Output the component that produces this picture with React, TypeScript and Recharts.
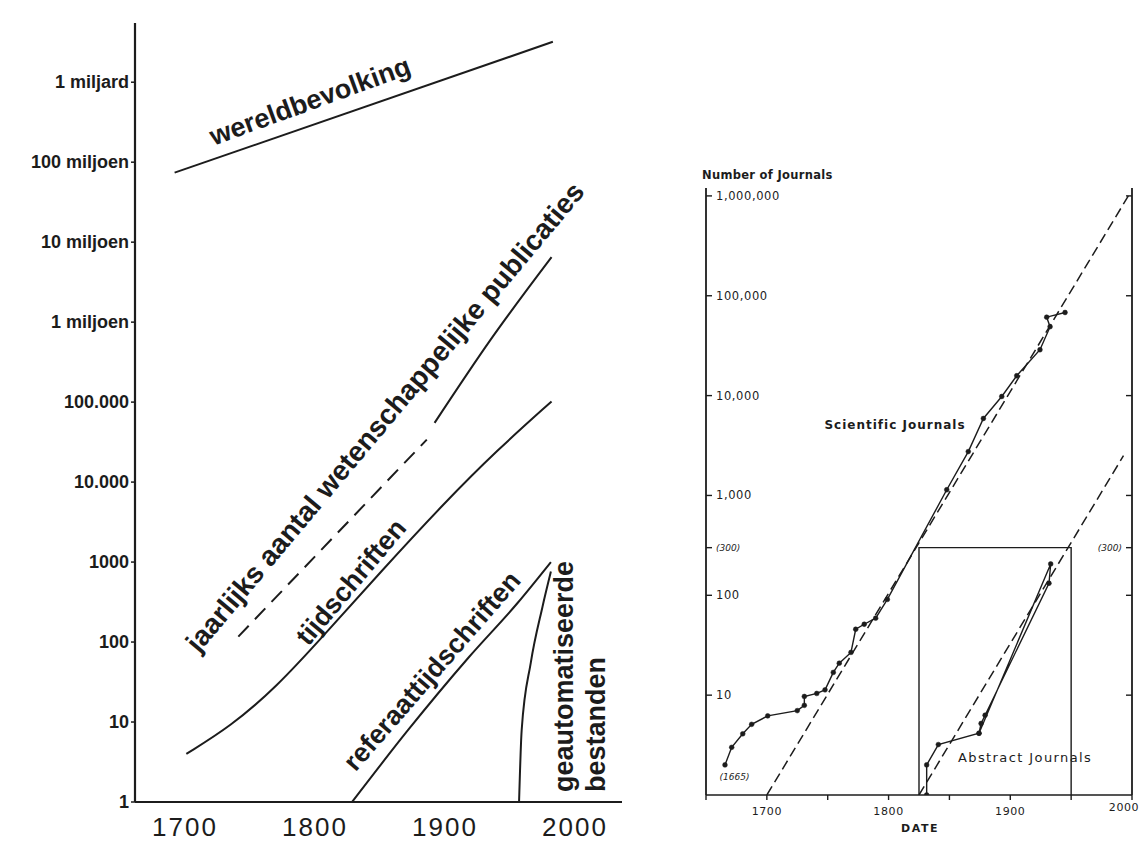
import React from 'react';
import { LineChart, Line, XAxis, YAxis } from 'recharts';

// ---------- Left chart (Dutch) ----------
const LEFT_X_TICKS = [1700, 1800, 1900, 2000];
const LEFT_Y_TICKS = [1, 10, 100, 1000, 10000, 100000, 1e6, 1e7, 1e8, 1e9];
const LEFT_Y_LABELS = ['1', '10', '100', '1000', '10.000', '100.000', '1 miljoen', '10 miljoen', '100 miljoen', '1 miljard'];

const wereldbevolking = [
  { year: 1692, value: 7.4e7 },
  { year: 1983, value: 3.2e9 },
];
const publicatiesGeschat = [
  { year: 1741, value: 117 },
  { year: 1886, value: 34000 },
];
const publicaties = [
  { year: 1892, value: 55000 },
  { year: 1935, value: 600000 },
  { year: 1982, value: 6.5e6 },
];
const tijdschriften = [
  { year: 1701, value: 4.0 },
  { year: 1735, value: 8.8 },
  { year: 1770, value: 27 },
  { year: 1806, value: 117 },
  { year: 1850, value: 740 },
  { year: 1900, value: 5600 },
  { year: 1940, value: 25000 },
  { year: 1982, value: 102000 },
];
const referaattijdschriften = [
  { year: 1828.5, value: 1 },
  { year: 1871.5, value: 7.9 },
  { year: 1918.5, value: 65 },
  { year: 1956, value: 310 },
  { year: 1981.5, value: 1000 },
];
const geautomatiseerd = [
  { year: 1957, value: 1 },
  { year: 1959, value: 7.9 },
  { year: 1966, value: 55 },
  { year: 1975, value: 275 },
  { year: 1981.5, value: 760 },
];

// ---------- Right chart (English) ----------
const RIGHT_X_TICKS = [1650, 1700, 1750, 1800, 1850, 1900, 1950, 2000];
const RIGHT_X_LABELED = [1700, 1800, 1900, 2000];
const RIGHT_Y_TICKS = [10, 100, 300, 1000, 10000, 100000, 1000000];
const RIGHT_Y_LABELS = ['10', '100', '(300)', '1,000', '10,000', '100,000', '1,000,000'];

const scientificJournals = [
  { year: 1665.6, value: 2.0 },
  { year: 1671.1, value: 3.0 },
  { year: 1680.2, value: 4.1 },
  { year: 1687.5, value: 5.1 },
  { year: 1700.7, value: 6.2 },
  { year: 1725, value: 7.0 },
  { year: 1730.8, value: 7.9 },
  { year: 1730.8, value: 9.7 },
  { year: 1741, value: 10.4 },
  { year: 1747.8, value: 11.3 },
  { year: 1754.6, value: 16.9 },
  { year: 1759.5, value: 20.9 },
  { year: 1769.1, value: 26.8 },
  { year: 1773, value: 45.7 },
  { year: 1780, value: 51.3 },
  { year: 1789.4, value: 59 },
  { year: 1799, value: 91 },
  { year: 1847.8, value: 1140 },
  { year: 1865.5, value: 2750 },
  { year: 1877.9, value: 5900 },
  { year: 1893, value: 9800 },
  { year: 1905.3, value: 15800 },
  { year: 1924.4, value: 28800 },
  { year: 1932.7, value: 49000 },
  { year: 1929.9, value: 61000 },
  { year: 1945, value: 68000 },
];
const scientificTrend = [
  { year: 1700, value: 1 },
  { year: 1997, value: 1000000 },
];
const abstractJournals = [
  { year: 1831.3, value: 1 },
  { year: 1831.3, value: 2.0 },
  { year: 1840.9, value: 3.2 },
  { year: 1874.3, value: 4.15 },
  { year: 1933.2, value: 206 },
  { year: 1931.8, value: 132 },
  { year: 1879.3, value: 6.3 },
  { year: 1876, value: 5.2 },
  { year: 1874.3, value: 4.15 },
];
const abstractTrend = [
  { year: 1825, value: 1 },
  { year: 1993, value: 2500 },
];
const insetBox = [
  { year: 1825, value: 1 },
  { year: 1825, value: 300 },
  { year: 1950, value: 300 },
  { year: 1950, value: 1 },
];

const INK = '#1c1c1c';
const LEFT_FONT = '"Liberation Sans", Arial, sans-serif';
const RIGHT_FONT = '"DejaVu Sans", sans-serif';

const LeftXTick = (props: any) => {
  const { x, y, payload } = props;
  return (
    <text x={x} y={y + 17} textAnchor="middle" dominantBaseline="central" fontFamily={LEFT_FONT}
      fontSize={26} letterSpacing={2} fill={INK}>{payload.value}</text>
  );
};

const LeftYTick = (props: any) => {
  const { x, y, payload } = props;
  const i = LEFT_Y_TICKS.indexOf(payload.value);
  return (
    <text x={x} y={y} textAnchor="end" dominantBaseline="central" fontFamily={LEFT_FONT}
      fontSize={18} fontWeight="bold" fill={INK}>{LEFT_Y_LABELS[i]}</text>
  );
};

const RightXTick = (props: any) => {
  const { x, y, payload } = props;
  if (!RIGHT_X_LABELED.includes(payload.value)) return <g />;
  const isLast = payload.value === 2000;
  return (
    <text x={x + (isLast ? -8 : 0)} y={y + (isLast ? 5 : 9)} textAnchor="middle" dominantBaseline="central" fontFamily={RIGHT_FONT}
      fontSize={11} letterSpacing={0.6} fill={INK}>{payload.value}</text>
  );
};

const RightYTickLeft = (props: any) => {
  const { x, y, payload } = props;
  const i = RIGHT_Y_TICKS.indexOf(payload.value);
  const isRef = payload.value === 300;
  return (
    <text x={x + 2} y={y} textAnchor="start" dominantBaseline="central" fontFamily={RIGHT_FONT}
      fontSize={isRef ? 9 : 11.5} fontStyle={isRef ? 'italic' : 'normal'} letterSpacing={isRef ? 0 : 0.6}
      fill={INK}>{RIGHT_Y_LABELS[i]}</text>
  );
};

const RightYTickRight = (props: any) => {
  const { x, y, payload } = props;
  if (payload.value !== 300) return <g />;
  return (
    <text x={x - 2} y={y} textAnchor="end" dominantBaseline="central" fontFamily={RIGHT_FONT}
      fontSize={9} fontStyle="italic" fill={INK}>(300)</text>
  );
};

export default function App() {
  return (
    <div style={{ position: 'absolute', left: 0, top: 0, width: 1147, height: 859, background: '#fff' }}>
      <div style={{ position: 'absolute', left: 0, top: 0 }}>
        <LineChart width={650} height={859} margin={{ top: 23, right: 28, bottom: 27, left: 75 }}>
          <XAxis type="number" dataKey="year" domain={[1661.5, 2036.2]} allowDataOverflow ticks={LEFT_X_TICKS}
            interval={0} height={30} tickLine={false} tick={LeftXTick}
            axisLine={{ stroke: INK, strokeWidth: 2.2 }} />
          <YAxis type="number" dataKey="value" scale="log" domain={[1, 5.5e9]} allowDataOverflow ticks={LEFT_Y_TICKS}
            interval={0} width={60} tickSize={4} tickLine={{ stroke: INK, strokeWidth: 1.5 }} tick={LeftYTick}
            axisLine={{ stroke: INK, strokeWidth: 2.2 }} />
          <Line data={wereldbevolking} dataKey="value" type="linear" stroke={INK} strokeWidth={2} dot={false} isAnimationActive={false} />
          <Line data={publicatiesGeschat} dataKey="value" type="linear" stroke={INK} strokeWidth={2} strokeDasharray="15 9" dot={false} isAnimationActive={false} />
          <Line data={publicaties} dataKey="value" type="monotone" stroke={INK} strokeWidth={2} dot={false} isAnimationActive={false} />
          <Line data={tijdschriften} dataKey="value" type="basis" stroke={INK} strokeWidth={2} dot={false} isAnimationActive={false} />
          <Line data={referaattijdschriften} dataKey="value" type="monotone" stroke={INK} strokeWidth={2} dot={false} isAnimationActive={false} />
          <Line data={geautomatiseerd} dataKey="value" type="monotone" stroke={INK} strokeWidth={2} dot={false} isAnimationActive={false} />
        </LineChart>
      </div>

      <div style={{ position: 'absolute', left: 650, top: 0 }}>
        <LineChart width={497} height={859} margin={{ top: 188, right: 15, bottom: 34, left: 56 }}>
          <XAxis type="number" dataKey="year" domain={[1650, 2000]} allowDataOverflow ticks={RIGHT_X_TICKS}
            interval={0} height={30} tickSize={5} tickLine={{ stroke: INK, strokeWidth: 1.4 }} tick={RightXTick}
            axisLine={{ stroke: INK, strokeWidth: 1.6 }} />
          <YAxis yAxisId="l" type="number" dataKey="value" scale="log" domain={[1, 1.2e6]} allowDataOverflow
            ticks={RIGHT_Y_TICKS} interval={0} width={56} mirror tickSize={6}
            tickLine={{ stroke: INK, strokeWidth: 1.4 }} tick={RightYTickLeft}
            axisLine={{ stroke: INK, strokeWidth: 1.8 }} />
          <YAxis yAxisId="r" orientation="right" type="number" dataKey="value" scale="log" domain={[1, 1.2e6]} allowDataOverflow
            ticks={RIGHT_Y_TICKS} interval={0} width={15} mirror tickSize={6}
            tickLine={{ stroke: INK, strokeWidth: 1.4 }} tick={RightYTickRight}
            axisLine={{ stroke: INK, strokeWidth: 1.8 }} />
          <Line yAxisId="l" data={insetBox} dataKey="value" type="linear" stroke={INK} strokeWidth={1.4} dot={false} isAnimationActive={false} />
          <Line yAxisId="l" data={scientificTrend} dataKey="value" type="linear" stroke={INK} strokeWidth={1.5} strokeDasharray="10 5" dot={false} isAnimationActive={false} />
          <Line yAxisId="l" data={abstractTrend} dataKey="value" type="linear" stroke={INK} strokeWidth={1.5} strokeDasharray="10 5" dot={false} isAnimationActive={false} />
          <Line yAxisId="l" data={scientificJournals} dataKey="value" type="linear" stroke={INK} strokeWidth={1.4}
            dot={{ r: 2.4, fill: INK, stroke: INK, strokeWidth: 0.5 }} isAnimationActive={false} />
          <Line yAxisId="l" data={abstractJournals} dataKey="value" type="linear" stroke={INK} strokeWidth={1.4}
            dot={{ r: 2.4, fill: INK, stroke: INK, strokeWidth: 0.5 }} isAnimationActive={false} />
        </LineChart>
      </div>

      <svg width={1147} height={859} style={{ position: 'absolute', left: 0, top: 0, pointerEvents: 'none' }}>
        <g fontFamily={LEFT_FONT} fontWeight="bold" fill={INK} fontSize={27}>
          <text x={310} y={101} textAnchor="middle" dominantBaseline="central" transform="rotate(-20 310 101)">wereldbevolking</text>
          <text x={385} y={417} textAnchor="middle" dominantBaseline="central" fontSize={28} transform="rotate(-50 385 417)">jaarlijks aantal wetenschappelijke publicaties</text>
          <text x={351} y={582} textAnchor="middle" dominantBaseline="central" transform="rotate(-50 351 582)">tijdschriften</text>
          <text x={432} y={671} textAnchor="middle" dominantBaseline="central" transform="rotate(-49 432 671)">referaattijdschriften</text>
          <text x={573} y={792} textAnchor="start" transform="rotate(-90 573 792)">geautomatiseerde</text>
          <text x={605} y={792} textAnchor="start" transform="rotate(-90 605 792)">bestanden</text>
        </g>
        <g fontFamily={RIGHT_FONT} fill={INK}>
          <text x={702} y={175} dominantBaseline="central" fontSize={11.5} fontWeight="bold" letterSpacing={0.3}>Number of Journals</text>
          <text x={895} y={425} textAnchor="middle" dominantBaseline="central" fontSize={12} fontWeight="bold" letterSpacing={1}>Scientific Journals</text>
          <text x={958} y={757} dominantBaseline="central" fontSize={13} letterSpacing={1.4}>Abstract Journals</text>
          <text x={734.5} y={777} textAnchor="middle" dominantBaseline="central" fontSize={9} fontStyle="italic">(1665)</text>
          <text x={920} y={828} textAnchor="middle" dominantBaseline="central" fontSize={11} fontWeight="bold" letterSpacing={1.5}>DATE</text>
        </g>
      </svg>
    </div>
  );
}
